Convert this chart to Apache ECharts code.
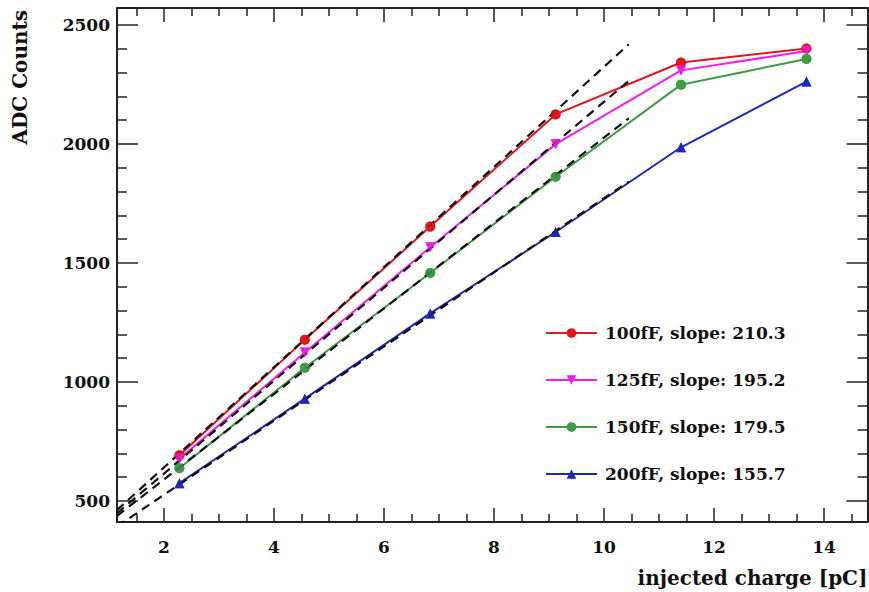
<!DOCTYPE html>
<html>
<head>
<meta charset="utf-8">
<script src="https://cdn.jsdelivr.net/npm/echarts@6/dist/echarts.min.js"></script>
<style>
html,body{margin:0;padding:0;background:#fff;}
#chart{width:869px;height:592px;}
</style>
</head>
<body>
<div id="chart"></div>
<script>
// ---- data ----
var charge = [2.28, 4.56, 6.84, 9.12, 11.4, 13.68];
var adc100 = [692, 1178, 1653, 2124, 2342, 2401];
var adc125 = [678, 1124, 1566, 1999, 2309, 2390];
var adc150 = [638, 1060, 1458, 1862, 2249, 2357];
var adc200 = [575, 930, 1288, 1630, 1986, 2262];
var seriesNames = ['100fF, slope: 210.3', '125fF, slope: 195.2', '150fF, slope: 179.5', '200fF, slope: 155.7'];
var fitSlopes = [210.3, 195.2, 179.5, 155.7];
var fitIntercepts = [221, 225, 232, 215];
var fitRange = [1.145, 10.45];
var xTitle = 'injected charge [pC]';
var yTitle = 'ADC Counts';

var colors = ['#e3141c', '#f01cf0', '#3f9a44', '#1f28b4'];
var symbols = ['circle', 'triangle', 'circle', 'triangle'];
var rotates = [0, 180, 0, 0];
var allY = [adc100, adc125, adc150, adc200];

var X_MIN = 1.145, X_MAX = 14.79, Y_MIN = 412, Y_MAX = 2571;
var FONT = 'DejaVu Serif';

function pairs(xs, ys) { return xs.map(function (x, i) { return [x, ys[i]]; }); }

var series = [];
allY.forEach(function (ys, k) {
  series.push({
    name: seriesNames[k], type: 'line', data: pairs(charge, ys),
    symbol: symbols[k], symbolSize: 10, symbolRotate: rotates[k], showAllSymbol: true,
    lineStyle: { color: colors[k], width: 2 }, itemStyle: { color: colors[k] },
    z: 2, animation: false
  });
});
fitSlopes.forEach(function (s, k) {
  series.push({
    type: 'line', data: fitRange.map(function (x) { return [x, fitIntercepts[k] + s * x]; }),
    symbol: 'none', lineStyle: { color: '#111', width: 2.2, type: [9, 6] }, z: 3, animation: false, silent: true
  });
});
allY.forEach(function (ys, k) {
  series.push({
    type: 'scatter', data: pairs(charge, ys), symbol: symbols[k], symbolSize: 10, symbolRotate: rotates[k],
    itemStyle: { color: colors[k] }, z: 4, animation: false, silent: true
  });
});

function plain(v) { return String(Math.round(v)); }

function xAx(pos, labels) {
  return {
    type: 'value', position: pos, min: X_MIN, max: X_MAX, splitNumber: 7,
    axisLine: { show: true, onZero: false, lineStyle: { color: '#222', width: 2 } },
    axisTick: { show: true, inside: true, length: 14, lineStyle: { color: '#222', width: 1.5 } },
    minorTick: { show: true, splitNumber: 4, length: 8, lineStyle: { color: '#222', width: 1.5 } },
    axisLabel: { show: labels, showMinLabel: false, showMaxLabel: false, margin: 16, formatter: plain,
      fontFamily: FONT, fontWeight: 'bold', fontSize: 17, color: '#111' },
    splitLine: { show: false }
  };
}
function yAx(pos, labels) {
  return {
    type: 'value', position: pos, min: Y_MIN, max: Y_MAX, splitNumber: 5,
    axisLine: { show: true, onZero: false, lineStyle: { color: '#222', width: 2 } },
    axisTick: { show: true, inside: true, length: 21, lineStyle: { color: '#222', width: 1.5 } },
    minorTick: { show: true, splitNumber: 5, length: 10, lineStyle: { color: '#222', width: 1.5 } },
    axisLabel: { show: labels, showMinLabel: false, showMaxLabel: false, margin: 7, formatter: plain,
      fontFamily: FONT, fontWeight: 'bold', fontSize: 17, color: '#111' },
    splitLine: { show: false }
  };
}

var chart = echarts.init(document.getElementById('chart'), null, { renderer: 'svg' });
chart.setOption({
  backgroundColor: '#fff',
  animation: false,
  grid: { left: 117, right: 1.5, top: 8, bottom: 70, containLabel: false },
  xAxis: [xAx('bottom', true), xAx('top', false)],
  yAxis: [yAx('left', true), yAx('right', false)],
  legend: {
    data: seriesNames, orient: 'vertical', left: 540, top: 318,
    itemWidth: 51, itemHeight: 12, itemGap: 27,
    textStyle: { fontFamily: FONT, fontWeight: 'bold', fontSize: 17, color: '#111', lineHeight: 20, padding: [0, 0, 0, 3] }
  },
  graphic: [
    { type: 'text', right: 1.5, top: 568, style: { text: xTitle, font: 'bold 20px "DejaVu Serif"', fill: '#111' } },
    { type: 'text', x: 20, y: 10, rotation: Math.PI / 2,
      style: { text: yTitle, font: 'bold 20px "DejaVu Serif"', fill: '#111', align: 'right', verticalAlign: 'middle' } }
  ],
  series: series
});
</script>
</body>
</html>
